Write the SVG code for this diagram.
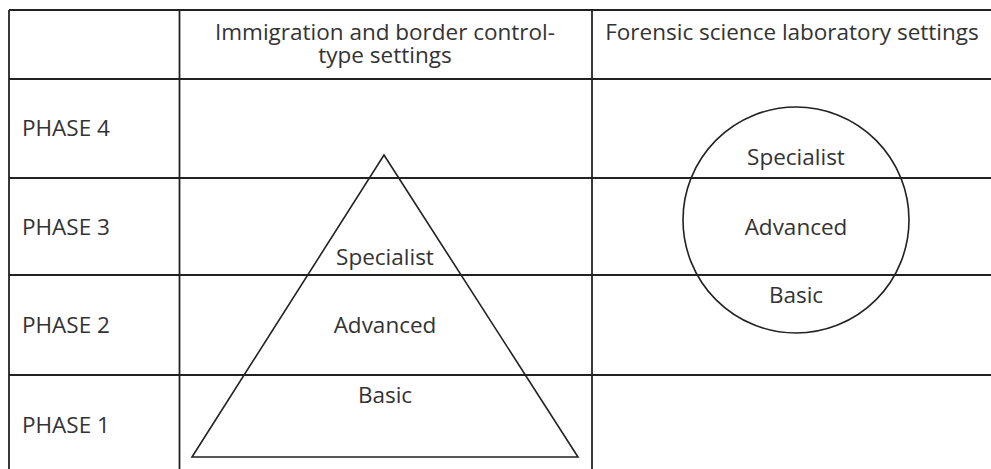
<svg xmlns="http://www.w3.org/2000/svg" width="991" height="469" viewBox="0 0 991 469">
<style>
.ln{stroke:#222;stroke-width:1.8;fill:none}
.sh{stroke:#222;stroke-width:1.6;fill:none}
text{font-family:"Open Sans","Liberation Sans",sans-serif;font-size:22.5px;fill:#333}
.c{text-anchor:middle}
</style>
<rect width="991" height="469" fill="#fff"/>
<g id="grid">
<line class="ln" x1="9" y1="10" x2="991" y2="10"/>
<line class="ln" x1="9" y1="79" x2="991" y2="79"/>
<line class="ln" x1="9" y1="178" x2="991" y2="178"/>
<line class="ln" x1="9" y1="275" x2="991" y2="275"/>
<line class="ln" x1="9" y1="375" x2="991" y2="375"/>
<line class="ln" x1="9" y1="10" x2="9" y2="469"/>
<line class="ln" x1="179.5" y1="10" x2="179.5" y2="469"/>
<line class="ln" x1="592" y1="10" x2="592" y2="469"/>
</g>
<g id="headers">
<text class="c" x="385" y="40">Immigration and border control-</text>
<text class="c" x="385" y="63">type settings</text>
<text class="c" x="792" y="40">Forensic science laboratory settings</text>
</g>
<g id="phases">
<text x="22" y="136">PHASE 4</text>
<text x="22" y="235">PHASE 3</text>
<text x="22" y="333">PHASE 2</text>
<text x="22" y="433">PHASE 1</text>
</g>
<g id="triangle">
<polygon class="sh" points="384,155 578,457 192,457"/>
<text class="c" x="385" y="265">Specialist</text>
<text class="c" x="385" y="333">Advanced</text>
<text class="c" x="385" y="403">Basic</text>
</g>
<g id="circle">
<circle class="sh" cx="796" cy="220" r="113"/>
<text class="c" x="796" y="165">Specialist</text>
<text class="c" x="796" y="235">Advanced</text>
<text class="c" x="796" y="303">Basic</text>
</g>
</svg>
